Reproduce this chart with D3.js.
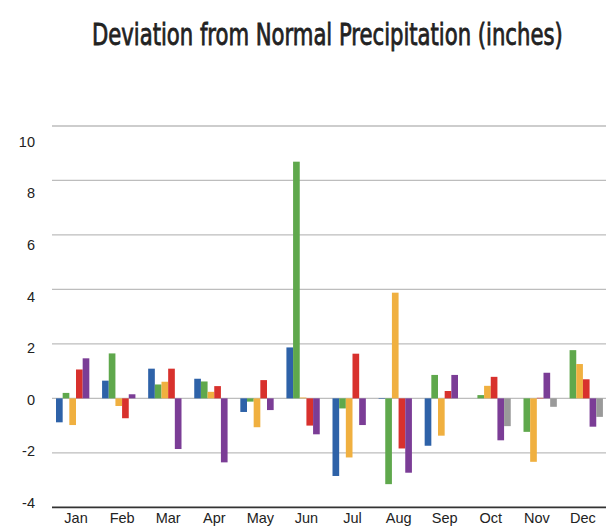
<!DOCTYPE html>
<html><head><meta charset="utf-8">
<script src="https://cdn.jsdelivr.net/npm/d3@7/dist/d3.min.js"></script>
<style>body{margin:0;background:#fff}svg{display:block}</style>
</head><body>
<script>
const months = ["Jan","Feb","Mar","Apr","May","Jun","Jul","Aug","Sep","Oct","Nov","Dec"];
const seriesNames = ["s1","s2","s3","s4","s5","s6"];
const seriesColors = ["#2e62a8","#5fa84c","#f0b040","#d8312d","#7b3d96","#9a9a9a"];
const s1 = [-0.88,0.65,1.09,0.72,-0.50,1.87,-2.85,-0.02,-1.74,0,0,0];
const s2 = [0.20,1.65,0.51,0.62,-0.12,8.69,-0.37,-3.15,0.86,0.12,-1.23,1.77];
const s3 = [-0.98,-0.28,0.61,0.24,-1.06,0.03,-2.17,3.88,-1.37,0.46,-2.33,1.26];
const s4 = [1.06,-0.73,1.09,0.45,0.67,-1.00,1.64,-1.84,0.27,0.79,0.02,0.70];
const s5 = [1.47,0.15,-1.86,-2.35,-0.43,-1.32,-0.98,-2.73,0.86,-1.54,0.94,-1.04];
const s6 = [0,0,0,0,0,0,0,0,0,-1.02,-0.31,-0.68];
const yTicks = [10,8,6,4,2,0,-2,-4];
const title = "Deviation from Normal Precipitation (inches)";

const series = [s1,s2,s3,s4,s5,s6];
const W = 608, H = 529;
const svg = d3.select("body").append("svg").attr("width",W).attr("height",H);

const x0 = d3.scaleBand().domain(months).range([52,605]).padding(0);
const x1 = d3.scaleBand().domain(seriesNames).range([4,44]).padding(0);
const y = d3.scaleLinear().domain([-4,10]).range([507.3,126]);
const yLab = d3.scaleLinear().domain([-4,10]).range([504,143]);

// gridlines
svg.append("g").selectAll("line").data(yTicks.filter(v=>v!==-4)).join("line")
  .attr("x1",52).attr("x2",606).attr("y1",d=>y(d)).attr("y2",d=>y(d))
  .attr("stroke","#bdbdbd").attr("stroke-width",1.3);

// y labels
svg.append("g").selectAll("text").data(yTicks).join("text")
  .attr("x",35).attr("y",d=>yLab(d)).attr("text-anchor","end")
  .attr("dominant-baseline","middle")
  .attr("font-family","Liberation Sans, Arial, sans-serif").attr("font-size",14.5)
  .attr("fill","#222").text(d=>d);

// bars
const g = svg.append("g");
months.forEach((m,i)=>{
  series.forEach((s,j)=>{
    const v = s[i];
    if (v === 0) return;
    g.append("rect")
      .attr("x", x0(m) + x1(seriesNames[j]))
      .attr("width", x1.bandwidth())
      .attr("y", y(Math.max(0,v)))
      .attr("height", Math.abs(y(v)-y(0)))
      .attr("fill", seriesColors[j]);
  });
});

// bottom axis line
svg.append("line").attr("x1",52).attr("x2",606).attr("y1",y(-4)).attr("y2",y(-4))
  .attr("stroke","#333").attr("stroke-width",1.8);

// month labels
svg.append("g").selectAll("text").data(months).join("text")
  .attr("x",d=>x0(d)+x0.bandwidth()/2+1).attr("y",523)
  .attr("text-anchor","middle")
  .attr("font-family","Liberation Sans, Arial, sans-serif").attr("font-size",14.5)
  .attr("fill","#222").text(d=>d);

// title, condensed horizontally to match the reference width
const tg = svg.append("g");
const tt = tg.append("text").attr("x",0).attr("y",0)
  .attr("font-family","Liberation Sans Narrow, DejaVu Sans Condensed, sans-serif")
  .attr("font-size",31).attr("fill","#222")
  .attr("stroke","#222").attr("stroke-width",0.8)
  .text(title);
const natural = tt.node().getComputedTextLength();
const sx = 471 / natural;
tg.attr("transform", `translate(92,45) scale(${sx},1)`);
</script>
</body></html>
